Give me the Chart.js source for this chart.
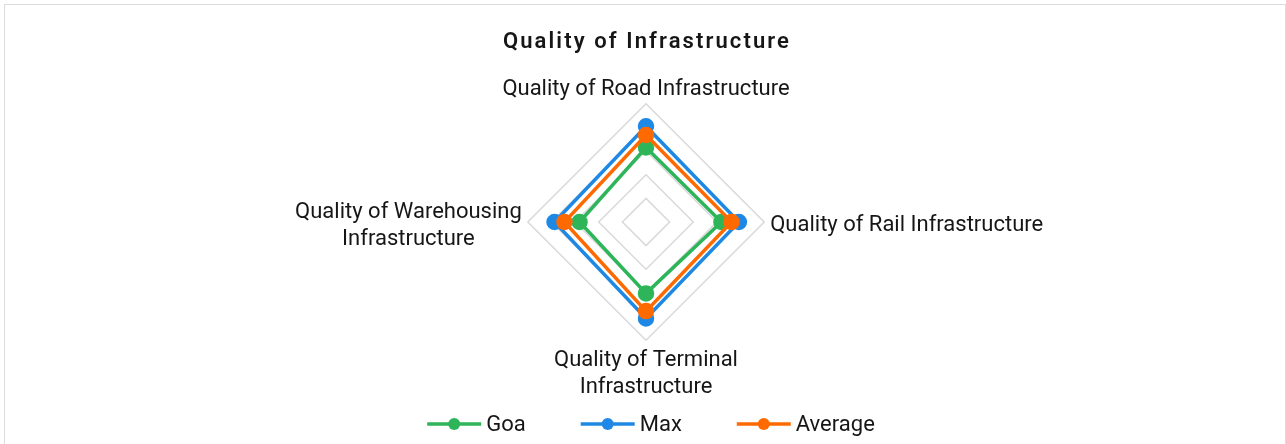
<!DOCTYPE html>
<html>
<head>
<meta charset="utf-8">
<script src="https://cdn.jsdelivr.net/npm/chart.js@4"></script>
<style>
  html, body { margin: 0; padding: 0; background: #fff; }
  #moldura {
    position: absolute; left: 4px; top: 4px; width: 1282px; height: 445px;
    border: 1.5px solid #dcdcdc; border-bottom: none; box-sizing: border-box;
  }
  #wrap { position: absolute; left: 0; top: 0; width: 1286px; height: 444px; }
</style>
</head>
<body>
<div id="moldura"></div>
<div id="wrap"><canvas id="grafico"></canvas></div>
<script>
const titulo = 'Quality of Infrastructure';
const categorias = [
  'Quality of Road Infrastructure',
  'Quality of Rail Infrastructure',
  ['Quality of Terminal', 'Infrastructure'],
  ['Quality of Warehousing', 'Infrastructure']
];
const goa = [3.15, 3.19, 3.02, 2.81];
const maximo = [4.05, 3.93, 4.08, 3.87];
const media = [3.68, 3.62, 3.77, 3.45];

const fonte = 'Roboto, sans-serif';
const corTexto = '#161616';

function serie(nome, dados, cor, ordem) {
  return {
    label: nome,
    data: dados,
    borderColor: cor,
    backgroundColor: cor,
    pointBackgroundColor: cor,
    pointBorderColor: cor,
    borderWidth: 3.5,
    pointRadius: 6.5,
    pointHoverRadius: 6.5,
    pointStyle: 'circle',
    fill: false,
    order: ordem
  };
}

// title with a bit of letter spacing, like the original
const tituloPlugin = {
  id: 'tituloEspacado',
  afterDraw(chart) {
    const ctx = chart.ctx;
    ctx.save();
    ctx.font = '600 22px ' + fonte;
    ctx.letterSpacing = '2.1px';
    ctx.fillStyle = corTexto;
    ctx.textAlign = 'center';
    ctx.textBaseline = 'alphabetic';
    ctx.fillText(titulo, 647, 48);
    ctx.restore();
  }
};

// legend: short line with a dot, then the name
const legendaPlugin = {
  id: 'legendaLinha',
  afterDraw(chart) {
    const ctx = chart.ctx;
    const y = 424;
    ctx.save();
    ctx.font = '22px ' + fonte;
    ctx.textBaseline = 'middle';
    const itens = chart.data.datasets.map(d => ({
      nome: d.label, cor: d.borderColor, w: ctx.measureText(d.label).width
    }));
    const total = itens.reduce((s, it) => s + 54 + 5 + it.w, 0) + 55 * (itens.length - 1);
    let x = 651 - total / 2;
    itens.forEach(it => {
      ctx.strokeStyle = it.cor;
      ctx.lineWidth = 3.5;
      ctx.beginPath(); ctx.moveTo(x, y); ctx.lineTo(x + 54, y); ctx.stroke();
      ctx.fillStyle = it.cor;
      ctx.beginPath(); ctx.arc(x + 27, y, 6, 0, Math.PI * 2); ctx.fill();
      ctx.fillStyle = corTexto;
      ctx.fillText(it.nome, x + 59, y + 1);
      x += 54 + 5 + it.w + 55;
    });
    ctx.restore();
  }
};

// small nudges so the axis labels sit like in the original
const deslocY = [0, 3, 1.5, 4];

new Chart(document.getElementById('grafico'), {
  type: 'radar',
  data: {
    labels: categorias,
    datasets: [
      serie('Goa', goa, '#2EB55A', 3),
      serie('Max', maximo, '#1E88E5', 2),
      serie('Average', media, '#FF6A00', 1)
    ]
  },
  plugins: [tituloPlugin, legendaPlugin],
  options: {
    responsive: true,
    maintainAspectRatio: false,
    animation: false,
    layout: { padding: { top: 61, bottom: 29, left: 6, right: 0 } },
    plugins: {
      title: { display: false },
      legend: { display: false },
      tooltip: { enabled: false }
    },
    scales: {
      r: {
        min: 0,
        max: 5,
        ticks: { display: false, stepSize: 1 },
        angleLines: { display: false },
        grid: { color: '#d9d9dc', lineWidth: 1.5 },
        pointLabels: {
          color: corTexto,
          padding: ctx => (ctx.index === 0 ? 1 : 6),
          font: { family: fonte, size: 22 }
        },
        afterFit(scale) {
          const itens = scale._pointLabelItems || [];
          itens.forEach((it, i) => {
            it.y += deslocY[i] || 0;
            it.top += deslocY[i] || 0;
            it.bottom += deslocY[i] || 0;
            if (it.textAlign === 'right') {
              // multi-line label on the left: lines centred on each other
              it.x = (it.left + it.right) / 2;
              it.textAlign = 'center';
            }
          });
        }
      }
    }
  }
});
</script>
</body>
</html>
